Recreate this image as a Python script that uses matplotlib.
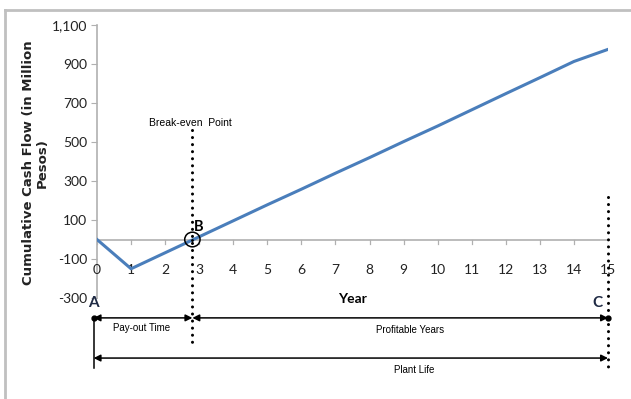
import matplotlib
matplotlib.use("Agg")
import matplotlib.pyplot as plt
from matplotlib.patches import Ellipse
from matplotlib.lines import Line2D
from matplotlib.ticker import FuncFormatter

# Cumulative cash flow (million pesos) by year
years = [0, 1, 2, 3, 4, 5, 6, 7, 8, 9, 10, 11, 12, 13, 14, 15]
cash_flow = [0, -150, -68, 14, 96, 178, 258, 340, 420, 502, 582, 665, 748, 830, 913, 975]

y_ticks = [-300, -100, 100, 300, 500, 700, 900, 1100]
x_ticks = list(range(0, 16))

break_even_year = 2.8
plant_life_end = 15
start_year = -0.1

label_font = ["Lato", "DejaVu Sans"]
wide_font = ["DejaVu Sans"]
narrow_font = ["Liberation Sans Narrow", "Liberation Sans", "DejaVu Sans"]
line_color = "#4a7ebb"
axis_gray = "#b0b0b0"

fig = plt.figure(figsize=(6.31, 3.99), dpi=100)

# Outer frame (top and left edges)
fig.add_artist(Line2D([5 / 631, 5 / 631], [0, 1 - 10 / 399], color="#c0c0c0", lw=2))
fig.add_artist(Line2D([5 / 631, 1], [1 - 10 / 399, 1 - 10 / 399], color="#c0c0c0", lw=2))

ax = fig.add_axes([97 / 631, 1 - 298 / 399, 511 / 631, 273 / 399])
ax.set_xlim(0, 15)
ax.set_ylim(-300, 1100)

for s in ["top", "right", "bottom"]:
    ax.spines[s].set_visible(False)
ax.spines["left"].set_color(axis_gray)
ax.spines["left"].set_linewidth(1.2)

ax.set_yticks(y_ticks)
ax.yaxis.set_major_formatter(FuncFormatter(lambda v, p: f"{int(v):,}"))
ax.tick_params(axis="y", length=4, color=axis_gray, labelsize=10, pad=3)
for t in ax.get_yticklabels():
    t.set_fontfamily(label_font)
    t.set_color("#222222")

ax.set_xticks([])

# Horizontal axis at zero with its tick marks and labels
ax.axhline(0, color=axis_gray, lw=1.2, zorder=1)
for x in x_ticks:
    ax.plot([x, x], [0, -22], color=axis_gray, lw=0.9, zorder=1)
    ax.text(x, -158, str(x), ha="center", va="center", fontsize=10,
            family=label_font, color="#222222")

ax.plot(years, cash_flow, color=line_color, lw=2.2, zorder=3)

ax.set_ylabel("Cumulative Cash Flow (in Million\nPesos)", fontsize=9.5,
              fontweight="bold", family=wide_font, linespacing=1.0,
              color="#222222")
ax.yaxis.set_label_coords(-0.095, 0.495)

ax.text(7.5, -305, "Year", ha="center", va="center", fontsize=10,
        fontweight="bold", family=label_font)

# Break-even marker
ax.add_patch(Ellipse((break_even_year, 0), 0.45, 75, fill=False, ec="black",
                     lw=1.1, zorder=4, clip_on=False))
ax.plot([break_even_year], [0], marker=".", color="black", ms=2, zorder=5)
ax.text(break_even_year + 0.05, 28, "B", fontsize=10.5, fontweight="bold",
        family=label_font, ha="left", va="bottom")
ax.text(break_even_year - 0.05, 598, "Break-even  Point", fontsize=7.5,
        family=narrow_font, ha="center", va="center")

dot_kw = dict(color="black", lw=2.2, dashes=(0.01, 2.3), dash_capstyle="round",
              clip_on=False, zorder=4)
ax.plot([break_even_year, break_even_year], [560, -530], **dot_kw)

# Plant life end marker
ax.plot([plant_life_end, plant_life_end], [218, -677], **dot_kw)

# Time-span arrows below the axis
y_row1 = -402
y_row2 = -608
arrow_kw = dict(arrowstyle="<|-|>", color="black", lw=1.1, mutation_scale=10,
                shrinkA=0, shrinkB=0)
ax.annotate("", xy=(break_even_year, y_row1), xytext=(start_year, y_row1),
            arrowprops=arrow_kw, annotation_clip=False)
ax.annotate("", xy=(plant_life_end, y_row1), xytext=(break_even_year, y_row1),
            arrowprops=arrow_kw, annotation_clip=False)
ax.annotate("", xy=(plant_life_end, y_row2), xytext=(start_year, y_row2),
            arrowprops=arrow_kw, annotation_clip=False)
ax.plot([start_year, plant_life_end], [y_row1, y_row1], "o", color="black",
        ms=3.5, clip_on=False, zorder=5)
ax.plot([start_year, start_year], [y_row1, y_row2 - 50], color="black",
        lw=1.1, clip_on=False)

ax.text(start_year, -360, "A", fontsize=11, fontweight="bold",
        family=label_font, ha="center", va="bottom", color="#1f2a44")
ax.text(plant_life_end - 0.3, -360, "C", fontsize=11, fontweight="bold",
        family=label_font, ha="center", va="bottom", color="#1f2a44")

ax.text(1.3, -452, "Pay-out Time", fontsize=7, family=narrow_font,
        ha="center", va="center")
ax.text(9.2, -462, "Profitable Years", fontsize=7, family=narrow_font,
        ha="center", va="center")
ax.text(9.3, -667, "Plant Life", fontsize=7, family=narrow_font,
        ha="center", va="center")

fig.savefig("out.png", dpi=100)
